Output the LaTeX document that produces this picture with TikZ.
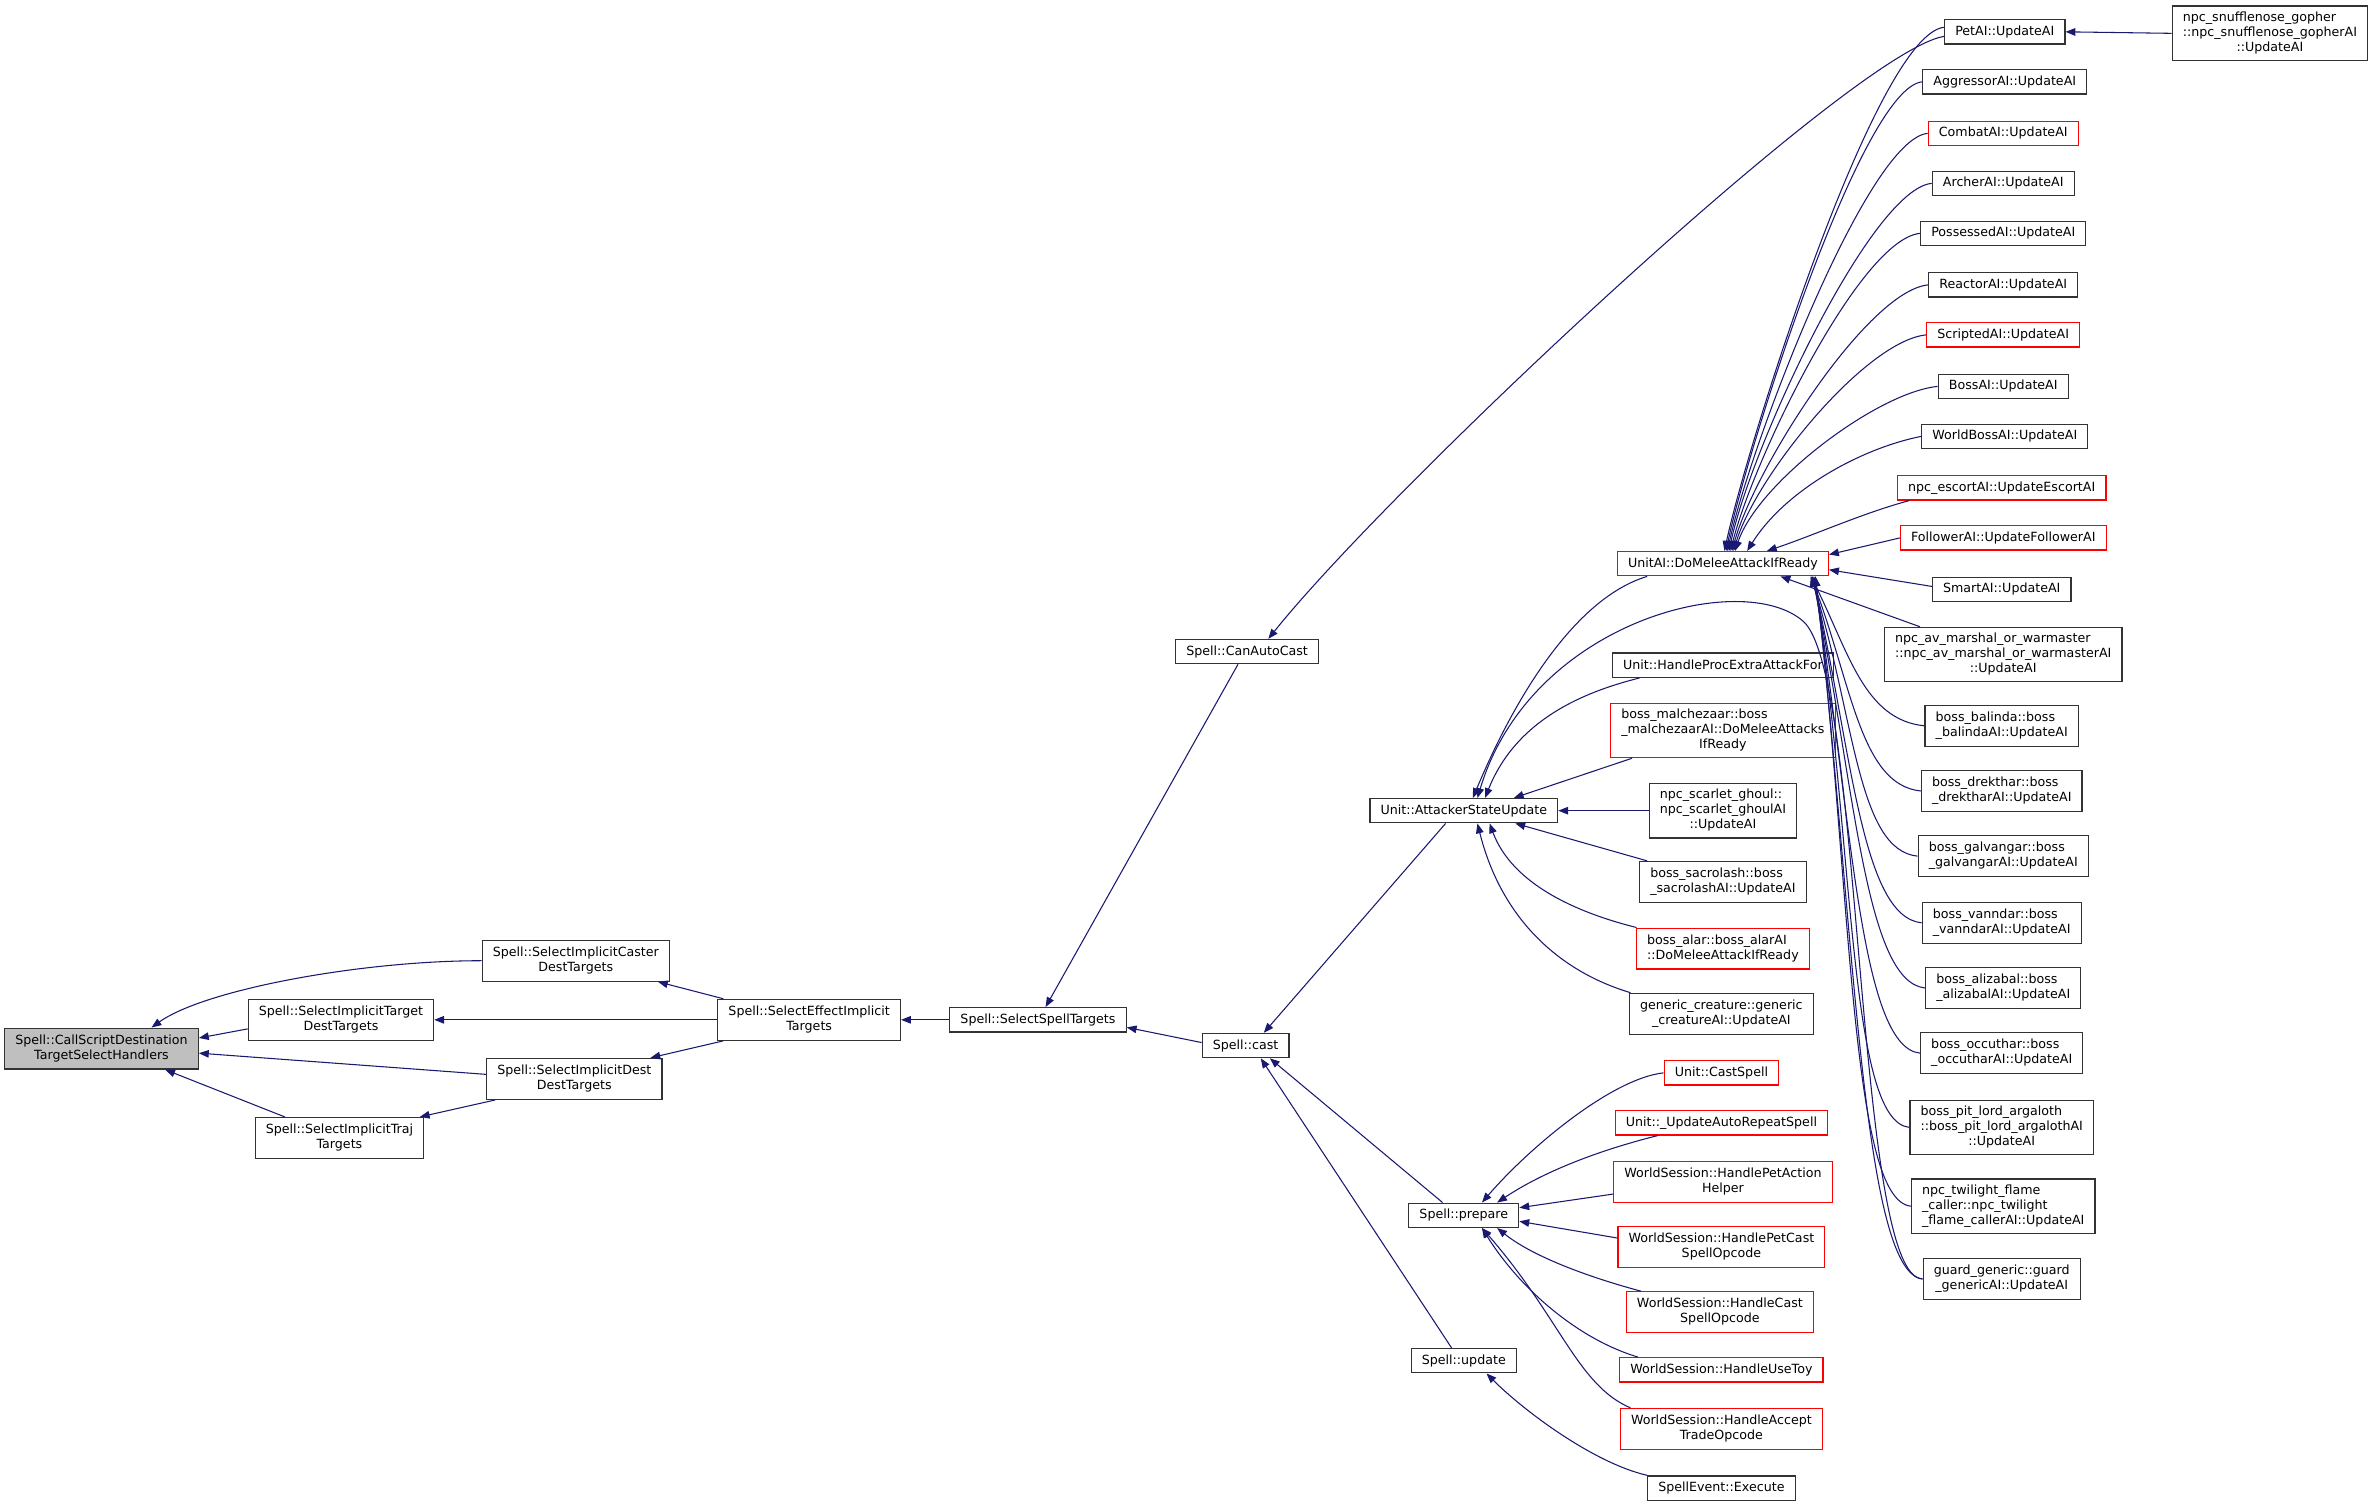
\documentclass[tikz,border=0pt]{standalone}
\usepackage{fontspec}
\setmainfont{DejaVu Sans}
\usepackage{tikz}
\usetikzlibrary{arrows.meta}
\definecolor{edgeBlue}{RGB}{25,25,112}
\colorlet{boxGray}{black!80}
\colorlet{rootGray}{black!25}
\colorlet{undocRed}{red}
% doxygen style label: first lines left, last line centred
\newcommand{\dlines}[2]{\begin{tabular}{@{}l@{}}#1\\\multicolumn{1}{@{}c@{}}{#2}\end{tabular}}

\begin{document}
\begin{tikzpicture}[x=1pt, y=1pt,
        every node/.style={font=\fontsize{8.35}{10}\selectfont, align=center},
        func/.style={draw=boxGray, line width=0.8pt, fill=white, inner xsep=7pt, inner ysep=0pt, minimum height=16pt},
        undoc/.style={func, draw=undocRed},
        two/.style={minimum height=27pt},
        three/.style={minimum height=36pt},
        call/.style={draw=edgeBlue, line width=0.7pt, -{Triangle[length=6.5pt,width=5pt]}}]
        \useasboundingbox[fill=white] (0,0) rectangle (1568,-995);

        % left part
        \node[func, two, fill=rootGray] (callscr) at (67,-692) {\dlines{Spell::CallScriptDestination}{TargetSelectHandlers}};
        \node[func, two] (caster) at (380,-634) {\dlines{Spell::SelectImplicitCaster}{DestTargets}};
        \node[func, two] (target) at (225,-673) {\dlines{Spell::SelectImplicitTarget}{DestTargets}};
        \node[func, two] (dest) at (379,-712) {\dlines{Spell::SelectImplicitDest}{DestTargets}};
        \node[func, two] (traj) at (224,-751) {\dlines{Spell::SelectImplicitTraj}{Targets}};
        \node[func, two] (effect) at (534,-673) {\dlines{Spell::SelectEffectImplicit}{Targets}};
        \node[func] (sst) at (685,-673) {Spell::SelectSpellTargets};
        \node[func] (canauto) at (823,-430) {Spell::CanAutoCast};
        \node[func] (cast) at (822,-690) {Spell::cast};
        \node[func] (asu) at (966,-535) {Unit::AttackerStateUpdate};
        \node[func] (prepare) at (966,-802) {Spell::prepare};
        \node[func] (update) at (966,-898) {Spell::update};

        % middle column
        \node[undoc] (unitai) at (1137,-372) {UnitAI::DoMeleeAttackIfReady};
        \node[func] (procextra) at (1137,-439) {Unit::HandleProcExtraAttackFor};
        \node[undoc, three] (malchezaar) at (1137,-482) {\dlines{boss\_malchezaar::boss\\\_malchezaarAI::DoMeleeAttacks}{IfReady}};
        \node[func, three] (ghoul) at (1137,-535) {\dlines{npc\_scarlet\_ghoul::\\npc\_scarlet\_ghoulAI}{::UpdateAI}};
        \node[func, two] (sacrolash) at (1137,-582) {\dlines{boss\_sacrolash::boss}{\_sacrolashAI::UpdateAI}};
        \node[undoc, two] (alar) at (1137,-626) {\dlines{boss\_alar::boss\_alarAI}{::DoMeleeAttackIfReady}};
        \node[func, two] (gencreature) at (1136,-669) {\dlines{generic\_creature::generic}{\_creatureAI::UpdateAI}};
        \node[undoc] (castspell) at (1136,-708) {Unit::CastSpell};
        \node[undoc] (autorepeat) at (1136,-741) {Unit::\_UpdateAutoRepeatSpell};
        \node[undoc, two] (petaction) at (1137,-780) {\dlines{WorldSession::HandlePetAction}{Helper}};
        \node[undoc, two] (petcast) at (1136,-823) {\dlines{WorldSession::HandlePetCast}{SpellOpcode}};
        \node[undoc, two] (handlecast) at (1135,-866) {\dlines{WorldSession::HandleCast}{SpellOpcode}};
        \node[undoc] (usetoy) at (1136,-904) {WorldSession::HandleUseToy};
        \node[undoc, two] (accepttrade) at (1136,-943) {\dlines{WorldSession::HandleAccept}{TradeOpcode}};
        \node[func] (execute) at (1136,-982) {SpellEvent::Execute};

        % right column
        \node[func] (petai) at (1323,-21) {PetAI::UpdateAI};
        \node[func] (aggressor) at (1323,-54) {AggressorAI::UpdateAI};
        \node[undoc] (combat) at (1322,-88) {CombatAI::UpdateAI};
        \node[func] (archer) at (1322,-121) {ArcherAI::UpdateAI};
        \node[func] (possessed) at (1322,-154) {PossessedAI::UpdateAI};
        \node[func] (reactor) at (1322,-188) {ReactorAI::UpdateAI};
        \node[undoc] (scripted) at (1322,-221) {ScriptedAI::UpdateAI};
        \node[func] (bossai) at (1322,-255) {BossAI::UpdateAI};
        \node[func] (worldboss) at (1323,-288) {WorldBossAI::UpdateAI};
        \node[undoc] (escort) at (1321,-322) {npc\_escortAI::UpdateEscortAI};
        \node[undoc] (follower) at (1322,-355) {FollowerAI::UpdateFollowerAI};
        \node[func] (smart) at (1321,-389) {SmartAI::UpdateAI};
        \node[func, three] (avmarshal) at (1322,-432) {\dlines{npc\_av\_marshal\_or\_warmaster\\::npc\_av\_marshal\_or\_warmasterAI}{::UpdateAI}};
        \node[func, two] (balinda) at (1321,-479) {\dlines{boss\_balinda::boss}{\_balindaAI::UpdateAI}};
        \node[func, two] (drekthar) at (1321,-522) {\dlines{boss\_drekthar::boss}{\_drektharAI::UpdateAI}};
        \node[func, two] (galvangar) at (1322,-565) {\dlines{boss\_galvangar::boss}{\_galvangarAI::UpdateAI}};
        \node[func, two] (vanndar) at (1321,-609) {\dlines{boss\_vanndar::boss}{\_vanndarAI::UpdateAI}};
        \node[func, two] (alizabal) at (1322,-652) {\dlines{boss\_alizabal::boss}{\_alizabalAI::UpdateAI}};
        \node[func, two] (occuthar) at (1321,-695) {\dlines{boss\_occuthar::boss}{\_occutharAI::UpdateAI}};
        \node[func, three] (pitlord) at (1321,-744) {\dlines{boss\_pit\_lord\_argaloth\\::boss\_pit\_lord\_argalothAI}{::UpdateAI}};
        \node[func, three] (twilight) at (1322,-796) {\dlines{npc\_twilight\_flame\\\_caller::npc\_twilight}{\_flame\_callerAI::UpdateAI}};
        \node[func, two] (guard) at (1321,-844) {\dlines{guard\_generic::guard}{\_genericAI::UpdateAI}};
        \node[func, three] (gopher) at (1498,-22) {\dlines{npc\_snufflenose\_gopher\\::npc\_snufflenose\_gopherAI}{::UpdateAI}};

        % calls into the root
        \draw[call] (caster.west) .. controls +(-80,0) and +(35,25) .. ([xshift=33pt]callscr.north);
        \draw[call] ([yshift=-6pt]target.west) -- ([yshift=7pt]callscr.east);
        \draw[call] ([yshift=3pt]dest.west) -- ([yshift=-3pt]callscr.east);
        \draw[call] ([xshift=-36pt]traj.north) -- ([xshift=42pt]callscr.south);
        \draw[call] ([xshift=6pt]dest.south west) -- ([xshift=-3pt]traj.north east);
        \draw[call] ([xshift=4pt]effect.north west) -- ([xshift=-8pt]caster.south east);
        \draw[call] (effect.west) -- (target.east);
        \draw[call] ([xshift=4pt]effect.south west) -- ([xshift=-8pt]dest.north east);
        \draw[call] (sst.west) -- (effect.east);
        \draw[call] ([xshift=-6pt]canauto.south) -- ([xshift=5pt]sst.north);
        \draw[call] ([yshift=2pt]cast.west) -- ([yshift=-5pt]sst.east);
        \draw[call] ([yshift=-3pt]petai.west) .. controls +(-60,-10) and +(80,100) .. ([xshift=14pt]canauto.north);

        % Spell::cast
        \draw[call] ([xshift=-12pt]asu.south) -- ([xshift=12pt]cast.north);
        \draw[call] ([xshift=-14pt]prepare.north) -- ([xshift=16pt]cast.south);
        \draw[call] ([xshift=-8pt]update.north) -- ([xshift=10pt]cast.south);

        % Spell::prepare and Spell::update
        \draw[call] (castspell.west) .. controls +(-35,-4) and +(30,35) .. ([xshift=12pt]prepare.north);
        \draw[call] ([xshift=-42pt]autorepeat.south) .. controls +(-40,-10) and +(30,20) .. ([xshift=22pt]prepare.north);
        \draw[call] ([yshift=-8pt]petaction.west) -- ([yshift=5pt]prepare.east);
        \draw[call] ([yshift=6pt]petcast.west) -- ([yshift=-4pt]prepare.east);
        \draw[call] ([xshift=-52pt]handlecast.north) .. controls +(-30,8) and +(25,-20) .. ([xshift=22pt]prepare.south);
        \draw[call] ([xshift=-55pt]usetoy.north) .. controls +(-40,12) and +(25,-40) .. ([xshift=12pt]prepare.south);
        \draw[call] ([xshift=-60pt]accepttrade.north) .. controls +(-35,15) and (1030,-870) .. ([xshift=12pt]prepare.south);
        \draw[call] ([xshift=-49pt]execute.north) .. controls +(-35,8) and +(25,-25) .. ([xshift=15pt]update.south);

        % Unit::AttackerStateUpdate
        \draw[call] ([xshift=-50pt]unitai.south) .. controls +(-50,-15) and +(25,60) .. ([xshift=6pt]asu.north);
        \draw[call] (guard.west) .. controls +(-45,0) and (1230,-445) .. (1190,-410) .. controls (1150,-375) and (1010,-410) .. ([xshift=9pt]asu.north);
        \draw[call] ([xshift=-55pt]procextra.south) .. controls +(-40,-10) and +(20,50) .. ([xshift=14pt]asu.north);
        \draw[call] ([xshift=-60pt]malchezaar.south) -- ([xshift=33pt]asu.north);
        \draw[call] (ghoul.west) -- (asu.east);
        \draw[call] ([xshift=-50pt]sacrolash.north) -- ([xshift=34pt]asu.south);
        \draw[call] ([xshift=-57pt]alar.north) .. controls +(-40,10) and +(15,-40) .. ([xshift=17pt]asu.south);
        \draw[call] ([xshift=-60pt]gencreature.north) .. controls +(-50,15) and +(15,-60) .. ([xshift=9pt]asu.south);

        % UnitAI::DoMeleeAttackIfReady, from above
        \draw[call] ([yshift=3pt]petai.west) .. controls +(-45,-5) and +(15,70) .. ([xshift=1pt]unitai.north);
        \draw[call] (aggressor.west) .. controls +(-40,-4) and +(15,70) .. ([xshift=2pt]unitai.north);
        \draw[call] (combat.west) .. controls +(-40,-4) and +(15,70) .. ([xshift=3pt]unitai.north);
        \draw[call] (archer.west) .. controls +(-40,-4) and +(15,70) .. ([xshift=4pt]unitai.north);
        \draw[call] (possessed.west) .. controls +(-40,-4) and +(15,60) .. ([xshift=5pt]unitai.north);
        \draw[call] (reactor.west) .. controls +(-40,-4) and +(15,55) .. ([xshift=6pt]unitai.north);
        \draw[call] (scripted.west) .. controls +(-40,-4) and +(15,50) .. ([xshift=7pt]unitai.north);
        \draw[call] (bossai.west) .. controls +(-40,-4) and +(15,45) .. ([xshift=8pt]unitai.north);
        \draw[call] (worldboss.west) .. controls +(-40,-8) and +(25,40) .. ([xshift=16pt]unitai.north);
        \draw[call] ([xshift=8pt]escort.south west) .. controls +(-30,-8) and +(30,10) .. ([xshift=29pt]unitai.north);
        \draw[call] (follower.west) -- ([yshift=6pt]unitai.east);
        \draw[call] ([yshift=2pt]smart.west) -- ([yshift=-4pt]unitai.east);

        % UnitAI::DoMeleeAttackIfReady, from below
        \draw[call] ([xshift=-55pt]avmarshal.north) -- ([xshift=38pt]unitai.south);
        \draw[call] (balinda.west) .. controls +(-40,4) and (1220,-430) .. ([xshift=58pt]unitai.south);
        \draw[call] (drekthar.west) .. controls +(-40,4) and (1222,-451) .. ([xshift=58pt]unitai.south);
        \draw[call] (galvangar.west) .. controls +(-40,4) and (1224,-472) .. ([xshift=58pt]unitai.south);
        \draw[call] (vanndar.west) .. controls +(-40,4) and (1222,-494) .. ([xshift=59pt]unitai.south);
        \draw[call] (alizabal.west) .. controls +(-40,4) and (1224,-516) .. ([xshift=59pt]unitai.south);
        \draw[call] (occuthar.west) .. controls +(-40,4) and (1222,-537) .. ([xshift=60pt]unitai.south);
        \draw[call] (pitlord.west) .. controls +(-40,4) and (1224,-562) .. ([xshift=60pt]unitai.south);
        \draw[call] (twilight.west) .. controls +(-40,4) and (1222,-588) .. ([xshift=61pt]unitai.south);
        \draw[call] (guard.west) .. controls +(-40,4) and (1224,-612) .. ([xshift=61pt]unitai.south);

        % PetAI::UpdateAI
        \draw[call] (gopher.west) -- (petai.east);
    \end{tikzpicture}
\end{document}
